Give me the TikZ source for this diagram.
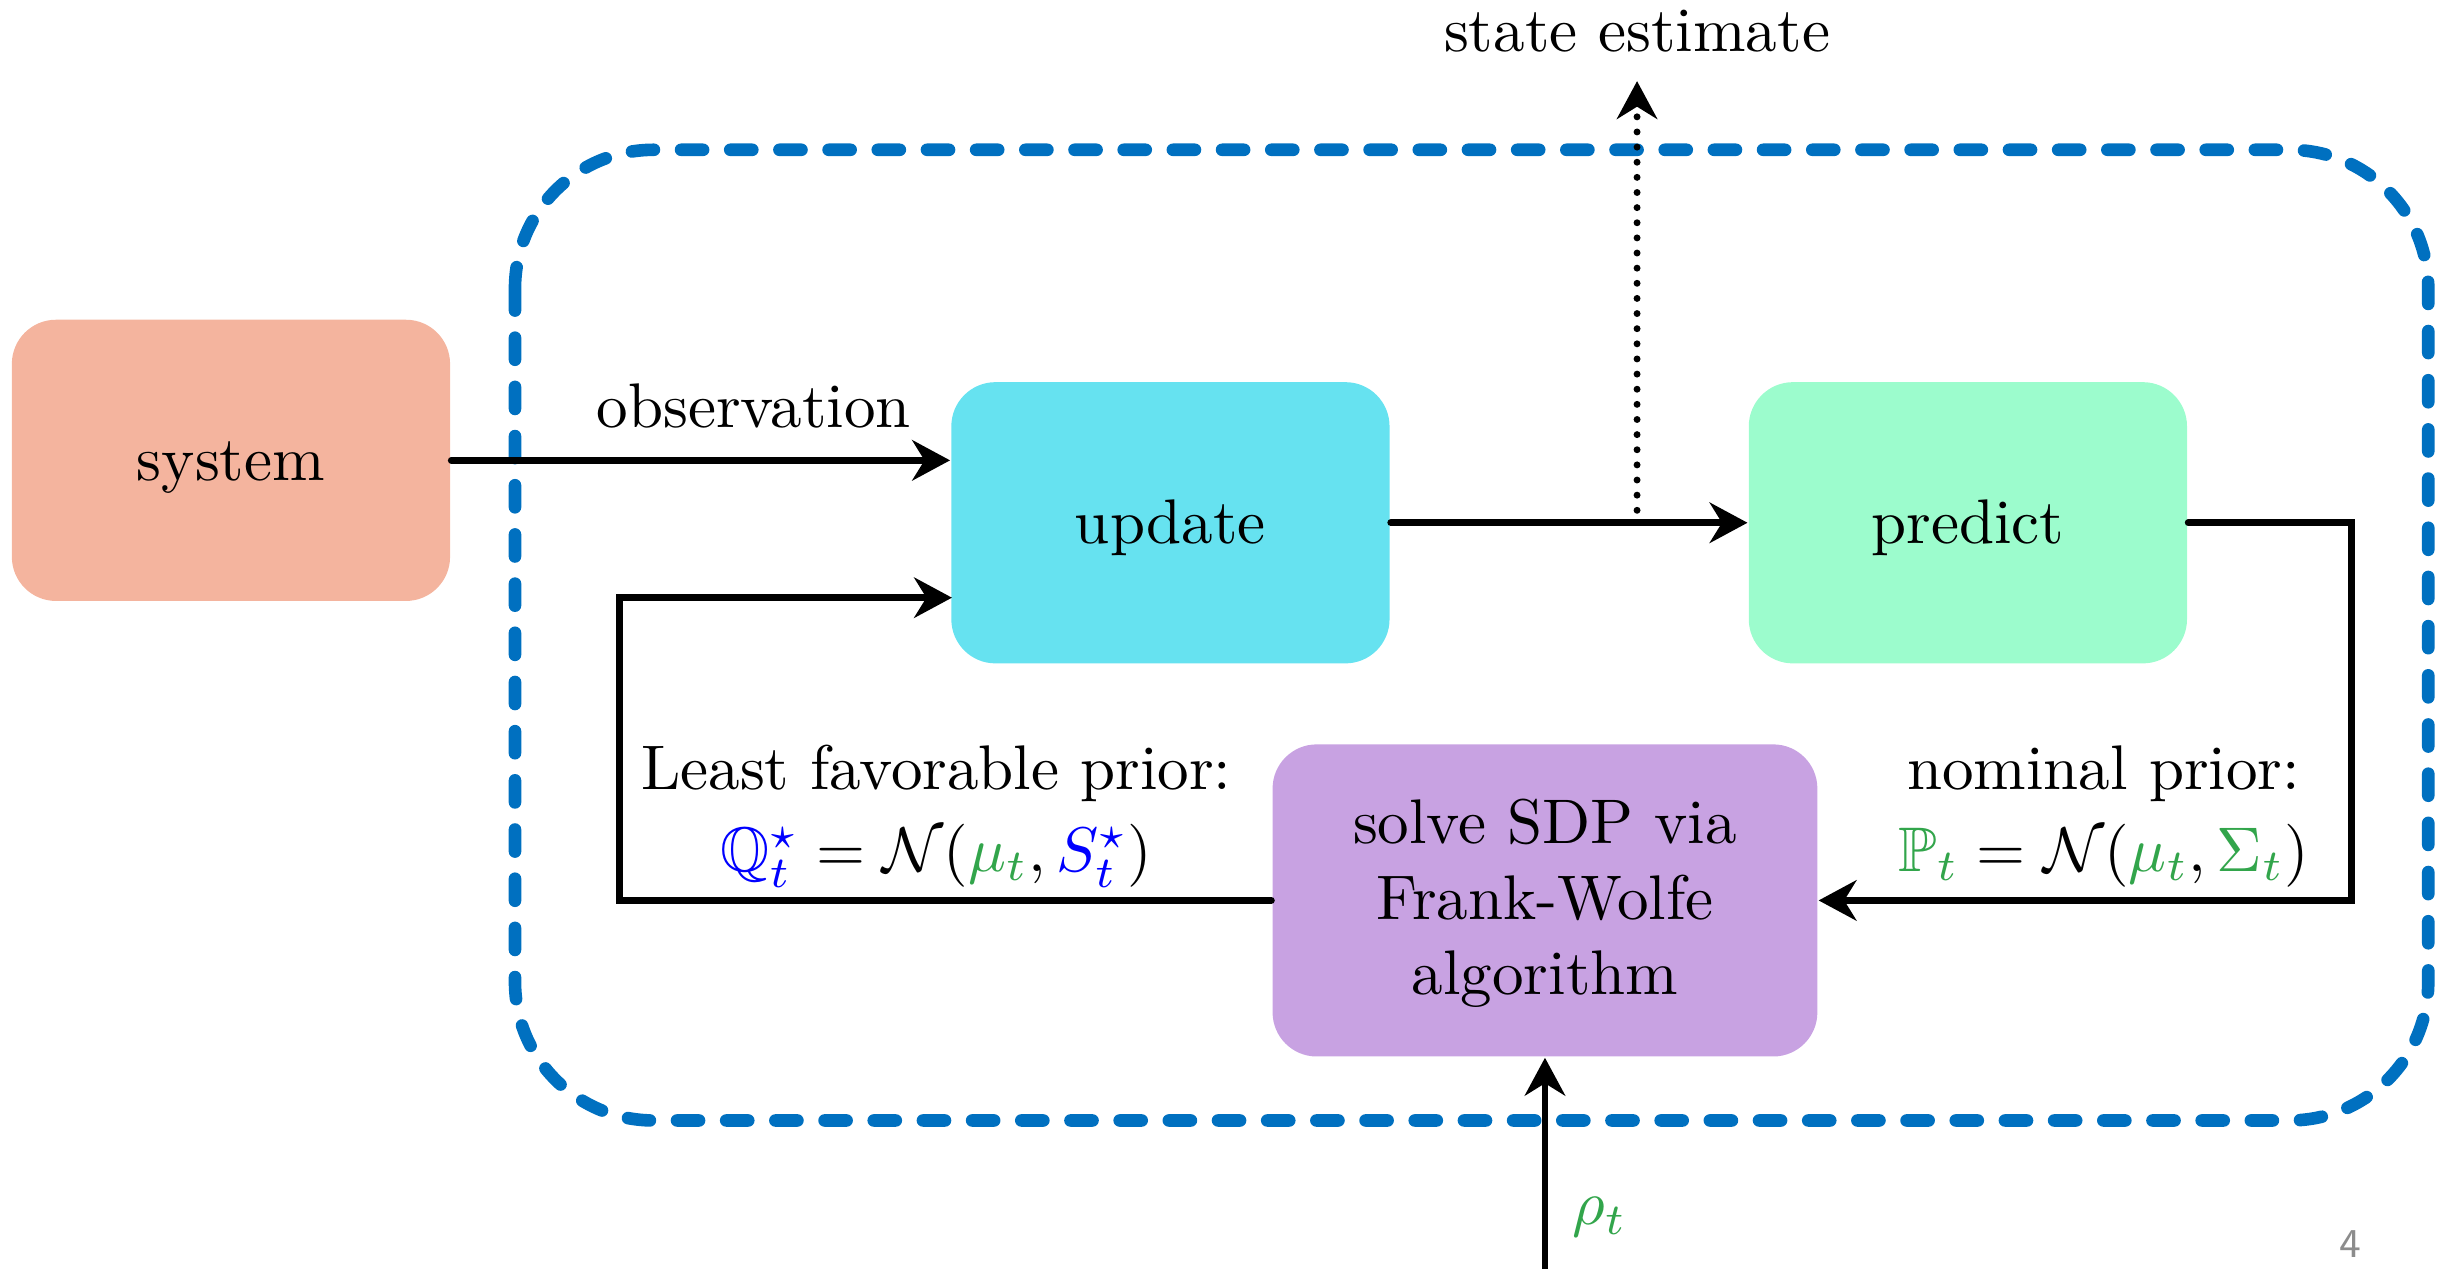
\documentclass[tikz,border=0pt]{standalone}
\usepackage{amssymb}
\usetikzlibrary{arrows.meta}
\definecolor{sysred}{RGB}{244,180,158}
\definecolor{updcyan}{RGB}{102,226,240}
\definecolor{predgreen}{RGB}{156,252,205}
\definecolor{solvepurple}{RGB}{200,162,226}
\definecolor{loopblue}{RGB}{0,112,192}
\definecolor{mathgreen}{RGB}{50,165,75}
\definecolor{pagegray}{RGB}{140,140,140}

\begin{document}
\begin{tikzpicture}[x=0.2475pt, y=-0.2475pt,
	box/.style={rounded corners=7pt, minimum width=69.5pt, minimum height=44.6pt, align=center, inner sep=0pt},
	onebox/.style={box, text height=8.4pt, text depth=1.94pt},
	flow/.style={line width=1.1pt, line cap=round, -{Stealth[length=6pt, width=6.4pt]}}]
	
	\useasboundingbox (0,0) rectangle (1568,813);
	
	% the filter loop
	\draw[loopblue, line width=2pt, dash pattern=on 3.5pt off 4.3pt, line cap=round, rounded corners=22pt] (330,96) rectangle (1556,718);
	
	\begin{scope}
	\node (sys) [onebox, fill=sysred] at (148,295) {system};
	\node (upd) [onebox, fill=updcyan] at (750,335) {update};
	\node (pred) [onebox, fill=predgreen] at (1261,335) {predict};
	\node (sdp) [box, fill=solvepurple, minimum width=86.4pt, minimum height=49.5pt] at (990,577) {\rule{0pt}{8pt}solve SDP via\\Frank-Wolfe\\algorithm};
	\end{scope}
	
	\begin{scope}
	\node (obs) at (483,260) {observation};
	\node (est) at (1049,20) {state estimate};
	\node (lfp) [align=center] at (600,523) {Least favorable prior:\\[1pt]
		$\color{blue}\mathbb{Q}_t^\star \color{black}= \mathcal{N}(\color{mathgreen}\mu_t\color{black}, \color{blue}S_t^\star\color{black})$};
	\node (nom) [align=center] at (1348,523) {nominal prior:\\[1pt]
		$\color{mathgreen}\mathbb{P}_t \color{black}= \mathcal{N}(\color{mathgreen}\mu_t\color{black}, \color{mathgreen}\Sigma_t\color{black})$};
	\node (rho) at (1025,780) {$\color{mathgreen}\rho_t$};
	\node (pg) [text=pagegray, font=\fontsize{6.5}{8}\sffamily] at (1506,797) {4};
	\end{scope}
	
	\coordinate (tap) at (1049,327);
	\coordinate (tip) at (1049,52);
	\coordinate (rbend) at (1507,335);
	\coordinate (lbend) at (397,577);
	\coordinate (lin) at (610,383);
	\coordinate (rhoin) at (990,813);
	
	\begin{scope}
	\draw[flow] (sys.east) -- (sys.east -| upd.west);
	\draw[flow] (upd.east) -- (pred.west);
	\draw[flow, dash pattern=on 0pt off 2.4pt] (tap) -- (tip);
	\draw[flow] (pred.east) -- (rbend) |- (sdp.east);
	\draw[flow] (sdp.west) -- (lbend) |- (lin);
	\draw[flow] (rhoin) -- (sdp.south);
	\end{scope}
\end{tikzpicture}
\end{document}
